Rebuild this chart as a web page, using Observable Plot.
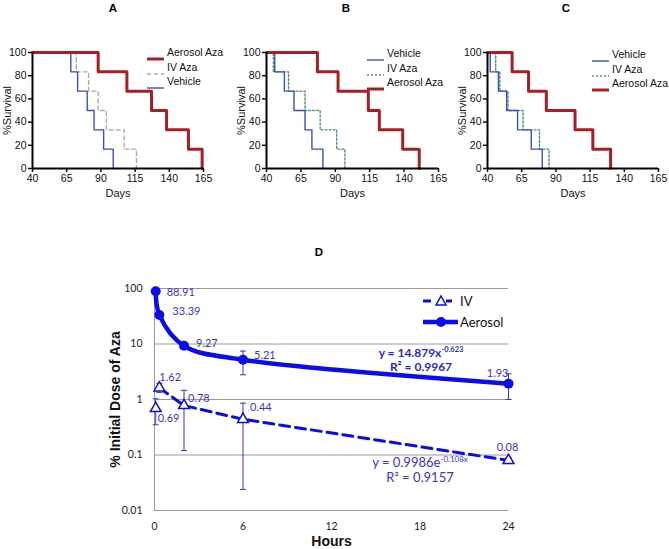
<!DOCTYPE html>
<html><head><meta charset="utf-8">
<script src="https://cdn.jsdelivr.net/npm/d3@7"></script>
<script src="https://cdn.jsdelivr.net/npm/@observablehq/plot@0.6"></script>
<style>
body{margin:0;background:#fff;}
#root{position:relative;width:669px;height:549px;overflow:hidden;font-family:"Liberation Sans",Arial,sans-serif;background:#fff;}
#root svg{overflow:visible;}
.t{position:absolute;white-space:nowrap;}
</style></head><body><div id="root"></div>
<script>
// ---------- Data: survival panels (A, B, C) ----------
const survivalLevels = [100, 83.33, 66.67, 50, 33.33, 16.67, 0];
const dayTicks = [40, 65, 90, 115, 140, 165];
const pctTicks = [0, 20, 40, 60, 80, 100];
const aDaysAerosol = [40, 88, 109, 127, 138, 154, 164];
const aDaysIV      = [40, 72, 81, 88, 94, 107, 116];
const aDaysVehicle = [40, 68, 73, 80, 85, 92, 99];
const bDaysAerosol = [40, 77, 92, 114, 122, 139, 151];
const bDaysIV      = [40, 45, 56, 68, 79, 91, 97];
const bDaysVehicle = [40, 46, 53, 60, 68, 73, 81];
const cDaysAerosol = [40, 58, 70, 83, 104, 117, 130];
const cDaysIV      = [40, 46, 49, 55, 66, 78, 85];
const cDaysVehicle = [40, 42, 48, 54, 62, 72, 80];

// ---------- Data: panel D ----------
const hours       = [0.083, 0.33, 2, 6, 24];
const aerosolPct  = [88.91, 33.39, 9.27, 5.21, 1.93];
const aerosolLo   = [null, null, null, 2.79, 1.0];
const aerosolHi   = [null, null, null, 7.46, 2.9];
const ivPct       = [0.69, 1.62, 0.78, 0.44, 0.08];
const ivLo        = [0.35, 1.34, 0.12, 0.024, 0.07];
const ivHi        = [1.03, 1.95, 1.46, 0.86, 0.09];
const hourTicks   = [0, 6, 12, 18, 24];
const doseTicks   = [0.01, 0.1, 1, 10, 100];

// ---------- Rendering ----------
const root = document.getElementById("root");
const RED = "#a81e26", VEH = "#3b4fc0", GRAY = "#aaaaaa", GREEN = "#4f9272";
const BLUE = "#0b0bec", LBLUE = "#3535cc";

function put(el, left, top) {
  el.style.position = "absolute"; el.style.left = left + "px"; el.style.top = top + "px";
  root.appendChild(el); return el;
}
function textDiv(html, left, top, css) {
  const d = document.createElement("div"); d.className = "t"; d.innerHTML = html;
  Object.assign(d.style, css || {}); return put(d, left, top);
}

const seriesStyle = {
  aerosol: {color: RED, width: 3, dash: null},
  ivA: {color: GRAY, width: 1.4, dash: "4,3"},
  ivBC: {color: GREEN, width: 1.4, dash: "2,2"},
  vehicle: {color: VEH, width: 1.4, dash: null}
};

function survival(series, marginLeft, marginRight) {
  return Plot.plot({
    width: 223, height: 210, marginLeft, marginRight, marginTop: 52, marginBottom: 42,
    style: {fontFamily: "'Liberation Sans', Arial, sans-serif", fontSize: "10.5px", color: "#111", background: "transparent"},
    x: {domain: [40, 165]},
    y: {domain: [0, 100]},
    marks: [
      ...series.map(s => Plot.line(s.days.map((d, i) => ({day: d, pct: survivalLevels[i]})),
        {x: "day", y: "pct", curve: "step-after", stroke: s.style.color, strokeWidth: s.style.width,
         strokeDasharray: s.style.dash || undefined})),
      Plot.ruleX([40], {stroke: "#000", strokeWidth: 2}),
      Plot.ruleY([0], {stroke: "#000", strokeWidth: 2}),
      Plot.axisX({ticks: dayTicks, tickSize: 4, tickPadding: 2, label: null, strokeWidth: 1.5}),
      Plot.axisY({ticks: pctTicks, tickSize: 4, tickPadding: 2, label: null, strokeWidth: 1.5}),
      Plot.text(["Days"], {frameAnchor: "bottom", dy: 25, lineAnchor: "middle", textAnchor: "middle", fontSize: 11}),
      Plot.text(["%Survival"], {frameAnchor: "left", dx: -25, rotate: -90, textAnchor: "middle", lineAnchor: "middle", fontSize: 11})
    ]
  });
}

function legend(left, top, items) {
  items.forEach((it, i) => {
    const y = top + i * 14.5;
    const ns = "http://www.w3.org/2000/svg";
    const svg = document.createElementNS(ns, "svg");
    svg.setAttribute("width", 18); svg.setAttribute("height", 8);
    const ln = document.createElementNS(ns, "line");
    ln.setAttribute("x1", 0); ln.setAttribute("x2", 17); ln.setAttribute("y1", 4); ln.setAttribute("y2", 4);
    ln.setAttribute("stroke", it.style.color); ln.setAttribute("stroke-width", it.style.width);
    if (it.style.dash) ln.setAttribute("stroke-dasharray", it.style.dash);
    svg.appendChild(ln);
    const wrap = document.createElement("div"); wrap.appendChild(svg);
    put(wrap, left, y - 4);
    textDiv(it.label, left + 20, y - 7, {fontSize: "10.5px", lineHeight: "13px", color: "#111"});
  });
}

// Panel A
put(survival([
  {days: aDaysIV, style: seriesStyle.ivA},
  {days: aDaysVehicle, style: seriesStyle.vehicle},
  {days: aDaysAerosol, style: seriesStyle.aerosol}
], 32, 20), 0, 0);
legend(147, 53, [
  {label: "Aerosol Aza", style: seriesStyle.aerosol},
  {label: "IV Aza", style: seriesStyle.ivA},
  {label: "Vehicle", style: seriesStyle.vehicle}
]);
// Panel B
put(survival([
  {days: bDaysIV, style: seriesStyle.ivBC},
  {days: bDaysVehicle, style: seriesStyle.vehicle},
  {days: bDaysAerosol, style: seriesStyle.aerosol}
], 43, 8), 223, 0);
legend(367, 54, [
  {label: "Vehicle", style: seriesStyle.vehicle},
  {label: "IV Aza", style: seriesStyle.ivBC},
  {label: "Aerosol Aza", style: seriesStyle.aerosol}
]);
// Panel C
put(survival([
  {days: cDaysIV, style: seriesStyle.ivBC},
  {days: cDaysVehicle, style: seriesStyle.vehicle},
  {days: cDaysAerosol, style: seriesStyle.aerosol}
], 41, 11), 446, 0);
legend(592, 55, [
  {label: "Vehicle", style: seriesStyle.vehicle},
  {label: "IV Aza", style: seriesStyle.ivBC},
  {label: "Aerosol Aza", style: seriesStyle.aerosol}
]);

const titleCss = {fontWeight: "bold", fontSize: "11.5px", width: "20px", textAlign: "center", lineHeight: "14px", color: "#000"};
textDiv("A", 103, 1, titleCss);
textDiv("B", 336, 1, titleCss);
textDiv("C", 556, 1, titleCss);
textDiv("D", 309, 245, titleCss);

// Panel D
const aero = hours.map((t, i) => ({t, v: aerosolPct[i], lo: aerosolLo[i], hi: aerosolHi[i]}));
const iv = hours.map((t, i) => ({t, v: ivPct[i], lo: ivLo[i], hi: ivHi[i]}));
const capSymbol = {draw(ctx, size) { const r = Math.sqrt(size / Math.PI); ctx.moveTo(-r, 0); ctx.lineTo(r, 0); }};
const aeroLab = [[11, 1, "start"], [13, -3, "start"], [12, -2, "start"], [11, -4, "start"], [0, -10, "end"]];
const ivLab = [[2, 10, "start"], [0, -10, "start"], [4, -7, "start"], [7, -12, "start"], [-1, -13, "middle"]];
const bars = [...aero, ...iv].filter(d => d.lo != null);
const labFont = "Lato, 'Open Sans', sans-serif";

const plotD = Plot.plot({
  width: 669, height: 334, marginLeft: 154, marginRight: 161, marginTop: 73, marginBottom: 39,
  style: {fontFamily: labFont, fontSize: "10.5px", color: "#222", background: "transparent"},
  x: {domain: [0, 24]},
  y: {type: "log", domain: [0.01, 100]},
  marks: [
    Plot.gridY(doseTicks, {stroke: "#9a9a9a", strokeOpacity: 1, strokeWidth: 1}),
    Plot.ruleX([0], {stroke: "#9a9a9a", strokeWidth: 1}),
    Plot.axisX({ticks: hourTicks, tickSize: 0, tickPadding: 12, label: null}),
    Plot.axisY({ticks: doseTicks, tickFormat: d => String(d), tickSize: 0, tickPadding: 12, label: null}),
    Plot.ruleX(bars, {x: "t", y1: "lo", y2: "hi", stroke: LBLUE, strokeWidth: 1}),
    Plot.dot(bars, {x: "t", y: "lo", symbol: capSymbol, r: 3, stroke: LBLUE, fill: "none", strokeWidth: 1}),
    Plot.dot(bars, {x: "t", y: "hi", symbol: capSymbol, r: 3, stroke: LBLUE, fill: "none", strokeWidth: 1}),
    Plot.line(iv.slice(1), {x: "t", y: "v", stroke: BLUE, strokeWidth: 3, strokeDasharray: "10,6"}),
    Plot.line(aero, {x: "t", y: "v", curve: "catmull-rom", stroke: BLUE, strokeWidth: 4.5}),
    Plot.dot(aero, {x: "t", y: "v", r: 5, fill: BLUE}),
    Plot.dot(iv, {x: "t", y: "v", symbol: "triangle", r: 4, fill: "white", stroke: BLUE, strokeWidth: 1.5}),
    ...aero.map((d, i) => Plot.text([d], {x: "t", y: "v", text: d => d.v.toFixed(2), dx: aeroLab[i][0], dy: aeroLab[i][1], textAnchor: aeroLab[i][2], fill: LBLUE, fontSize: 11})),
    ...iv.map((d, i) => Plot.text([d], {x: "t", y: "v", text: d => d.v.toFixed(2), dx: ivLab[i][0], dy: ivLab[i][1], textAnchor: ivLab[i][2], fill: LBLUE, fontSize: 11})),
    Plot.text(["Hours"], {frameAnchor: "bottom", dy: 31, lineAnchor: "middle", textAnchor: "middle", fontSize: 14, fontWeight: "bold", fill: "#111", fontFamily: "'Liberation Sans', Arial, sans-serif"}),
    Plot.text(["% Initial Dose of Aza"], {frameAnchor: "left", dx: -39, rotate: -90, textAnchor: "middle", lineAnchor: "middle", fontSize: 14, fontWeight: "bold", fill: "#111", fontFamily: "'Liberation Sans', Arial, sans-serif"})
  ]
});
put(plotD, 0, 215);

// Equations
textDiv('y = 14.879x<sup style="font-size:7.5px;vertical-align:5px">-0.623</sup><br>R² = 0.9967', 361, 343,
  {width: "120px", textAlign: "center", fontFamily: labFont, fontWeight: "bold", fontSize: "12px", lineHeight: "14px", color: "#2a2ac6"});
textDiv('y = 0.9986e<sup style="font-size:8px;vertical-align:5px">-0.108x</sup><br>R² = 0.9157', 360, 452,
  {width: "120px", textAlign: "center", fontFamily: labFont, fontSize: "13px", lineHeight: "15px", color: "#3535d0"});

// Legend D
(function () {
  const ns = "http://www.w3.org/2000/svg";
  function sw(drawFn, y) {
    const svg = document.createElementNS(ns, "svg");
    svg.setAttribute("width", 40); svg.setAttribute("height", 14);
    drawFn(svg);
    const w = document.createElement("div"); w.appendChild(svg); put(w, 421, y - 7);
  }
  function el(svg, tag, attrs) {
    const e = document.createElementNS(ns, tag);
    for (const k in attrs) e.setAttribute(k, attrs[k]);
    svg.appendChild(e);
  }
  sw(svg => {
    el(svg, "line", {x1: 2, x2: 10, y1: 7, y2: 7, stroke: BLUE, "stroke-width": 3});
    el(svg, "line", {x1: 25, x2: 31, y1: 7, y2: 7, stroke: BLUE, "stroke-width": 3});
    el(svg, "path", {d: "M20,2 L25,11 L15,11 Z", fill: "white", stroke: BLUE, "stroke-width": 1.5});
  }, 301);
  sw(svg => {
    el(svg, "line", {x1: 2, x2: 37, y1: 7, y2: 7, stroke: BLUE, "stroke-width": 4.5});
    el(svg, "circle", {cx: 20, cy: 7, r: 5, fill: BLUE});
  }, 322);
  textDiv("IV", 460, 293, {fontFamily: labFont, fontSize: "13px", lineHeight: "16px", color: "#111"});
  textDiv("Aerosol", 460, 314, {fontFamily: labFont, fontSize: "13px", lineHeight: "16px", color: "#111"});
})();
</script>
</body></html>
